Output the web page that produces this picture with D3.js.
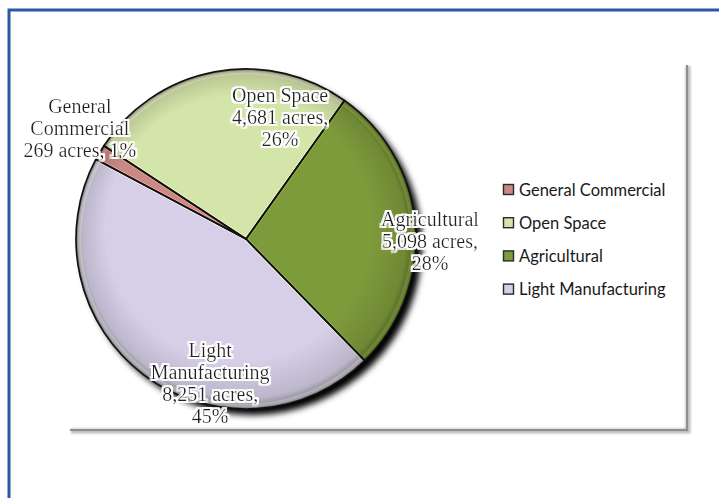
<!DOCTYPE html>
<html>
<head>
<meta charset="utf-8">
<script src="https://cdn.jsdelivr.net/npm/d3@7"></script>
<style>
  html, body { margin: 0; padding: 0; background: #fff; }
  svg { display: block; }
</style>
</head>
<body>
<script>
// ---- data ----
const categories = ["General Commercial", "Open Space", "Agricultural", "Light Manufacturing"];
const acres = [269, 4681, 5098, 8251];
const labelNameLines = [["General", "Commercial"], ["Open Space"], ["Agricultural"], ["Light", "Manufacturing"]];
const valueOnNameLine = [true, false, false, false]; // "269 acres, 1%" kept on one line
const colors = ["#c98984", "#d4e5a9", "#7e9b3b", "#d6cfe7"];

// ---- layout ----
const W = 719, H = 498;
const cx = 246, cy = 239, R = 170;
const startDeg = -62;
// label anchors in polar form relative to pie center: [angleDeg clockwise from north, distance]
const labelPolar = [[-56.2, 200], [15.6, 127], [90.6, 184], [194, 148]];
const lineH = 22;

const svg = d3.select("body").append("svg").attr("width", W).attr("height", H);
const defs = svg.append("defs");

const sh = defs.append("filter").attr("id", "shadow").attr("x", "-20%").attr("y", "-20%").attr("width", "150%").attr("height", "150%");
sh.append("feGaussianBlur").attr("in", "SourceAlpha").attr("stdDeviation", 3);
sh.append("feOffset").attr("dx", 6).attr("dy", 6).attr("result", "b");
sh.append("feComponentTransfer").append("feFuncA").attr("type", "linear").attr("slope", 1);

const fshadow = defs.append("filter").attr("id", "frameShadow").attr("x", "-5%").attr("y", "-5%").attr("width", "110%").attr("height", "110%");
fshadow.append("feGaussianBlur").attr("stdDeviation", 1.2);

const glow = defs.append("filter").attr("id", "glow").attr("x", "-10%").attr("y", "-20%").attr("width", "120%").attr("height", "140%");
glow.append("feMorphology").attr("in", "SourceAlpha").attr("operator", "dilate").attr("radius", 1.8).attr("result", "d");
glow.append("feGaussianBlur").attr("in", "d").attr("stdDeviation", 0.6).attr("result", "db");
glow.append("feFlood").attr("flood-color", "#ffffff").attr("result", "w");
glow.append("feComposite").attr("in", "w").attr("in2", "db").attr("operator", "in").attr("result", "halo");
const gm = glow.append("feMerge");
gm.append("feMergeNode").attr("in", "halo");
gm.append("feMergeNode").attr("in", "SourceGraphic");

// edge shading over the pie (darker rim toward the lower right)
const rg = defs.append("radialGradient").attr("id", "rim")
  .attr("cx", "50%").attr("cy", "50%").attr("r", "50%").attr("fx", "40%").attr("fy", "36%");
rg.append("stop").attr("offset", "0.78").attr("stop-color", "#000").attr("stop-opacity", 0);
rg.append("stop").attr("offset", "0.95").attr("stop-color", "#000").attr("stop-opacity", 0.12);
rg.append("stop").attr("offset", "1").attr("stop-color", "#000").attr("stop-opacity", 0.4);

// outer blue frame
svg.append("rect").attr("x", 9).attr("y", 10).attr("width", 800).attr("height", 600)
  .attr("fill", "none").attr("stroke", "#2c57a6").attr("stroke-width", 3);

// inner chart frame (right/bottom shadowed edge)
const fr = svg.append("g");
fr.append("path").attr("d", `M687,65 L687,430 L70,430`).attr("fill", "none")
  .attr("stroke", "#bdbdbd").attr("stroke-width", 5).attr("filter", "url(#frameShadow)").attr("transform", "translate(1,1)");
fr.append("path").attr("d", `M687,65 L687,430 L70,430`).attr("fill", "none")
  .attr("stroke", "#8e8e8e").attr("stroke-width", 2);

// ---- pie ----
const total = d3.sum(acres);
const data = categories.map((c, i) => ({ cat: c, value: acres[i], i }));
const pie = d3.pie().value(d => d.value).sort(null)
  .startAngle(startDeg * Math.PI / 180).endAngle((startDeg + 360) * Math.PI / 180);
const arcs = pie(data);
const arc = d3.arc().innerRadius(0).outerRadius(R);
const arcInner = d3.arc().innerRadius(0).outerRadius(R - 3.5);

const g = svg.append("g").attr("transform", `translate(${cx},${cy})`);

// shadow
g.append("circle").attr("r", R).attr("fill", "#000").attr("filter", "url(#shadow)");

// slices
g.selectAll("path.slice").data(arcs).join("path").attr("class", "slice")
  .attr("d", arc).attr("fill", d => colors[d.data.i]);

// bevel highlight inside each slice
arcs.forEach((d, k) => {
  const cp = defs.append("clipPath").attr("id", "clip" + k);
  cp.append("path").attr("d", arc(d));
});
g.selectAll("path.hl").data(arcs).join("path").attr("class", "hl")
  .attr("d", arcInner)
  .attr("fill", "none")
  .attr("stroke", d => d3.color(colors[d.data.i]).brighter(0.7))
  .attr("stroke-opacity", 0.85)
  .attr("stroke-width", 3.5)
  .attr("clip-path", (d, k) => `url(#clip${k})`);

// rim shading
g.append("circle").attr("r", R).attr("fill", "url(#rim)");

// outlines
g.selectAll("path.outline").data(arcs).join("path").attr("class", "outline")
  .attr("d", arc).attr("fill", "none").attr("stroke", "#111").attr("stroke-width", 1.7)
  .attr("stroke-linejoin", "round");

// ---- labels ----
const fmtInt = d3.format(",");
const fmtPct = d3.format(".0%");
const lab = svg.append("g").attr("font-family", "'Liberation Serif', 'Times New Roman', serif")
  .attr("font-size", 20).attr("fill", "#222").attr("text-anchor", "middle")
  .attr("filter", "url(#glow)");

data.forEach((d, i) => {
  const valTxt = fmtInt(d.value) + " acres,";
  const pctTxt = fmtPct(d.value / total);
  let lines = labelNameLines[i].slice();
  if (valueOnNameLine[i]) lines.push(valTxt + " " + pctTxt);
  else { lines.push(valTxt); lines.push(pctTxt); }
  const a = labelPolar[i][0] * Math.PI / 180, dist = labelPolar[i][1];
  const x = cx + dist * Math.sin(a), y = cy - dist * Math.cos(a);
  const n = lines.length;
  const t = lab.append("text").attr("x", x).attr("y", y - (n - 1) * lineH / 2);
  lines.forEach((ln, j) => {
    t.append("tspan").attr("x", x).attr("dy", j === 0 ? "0.35em" : lineH).text(ln);
  });
});

// ---- legend ----
const leg = svg.append("g").attr("transform", "translate(503,190)");
const legRow = 33.2;
categories.forEach((c, i) => {
  const row = leg.append("g").attr("transform", `translate(0,${i * legRow})`);
  row.append("rect").attr("x", 0.5).attr("y", -5.5).attr("width", 10).attr("height", 10)
    .attr("fill", colors[i]).attr("stroke", "#2a2a2a").attr("stroke-width", 1.4);
  row.append("text").attr("x", 16).attr("y", 0).attr("dy", "0.35em")
    .attr("font-family", "Lato, 'Open Sans', sans-serif").attr("font-size", 16.5)
    .attr("fill", "#1a1a1a").text(c);
});
</script>
</body>
</html>
